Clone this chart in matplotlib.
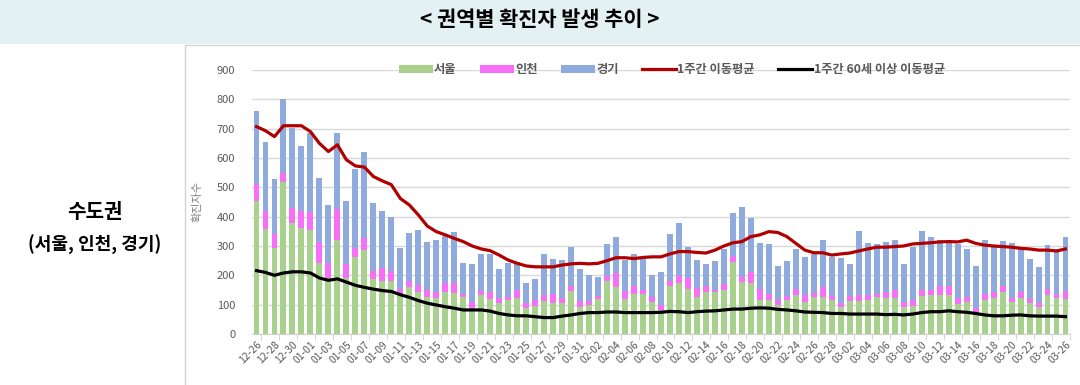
import pandas as pd
import matplotlib
matplotlib.use("Agg")
import matplotlib.pyplot as plt
from matplotlib.patches import Rectangle

plt.rcParams['font.family'] = ['Noto Sans CJK KR', 'DejaVu Sans']

# Daily confirmed cases, 2020-12-26 .. 2021-03-26
dates = pd.date_range("2020-12-26", "2021-03-26").strftime("%m-%d").tolist()

seoul = [455, 357, 293, 518, 380, 361, 354, 242, 192, 321, 191, 261, 288, 188, 180, 180,
         134, 161, 144, 127, 122, 144, 139, 125, 88, 133, 119, 107, 116, 122, 88, 95,
         114, 105, 105, 147, 93, 99, 118, 181, 161, 118, 136, 136, 108, 82, 165, 173,
         152, 125, 144, 143, 150, 247, 176, 173, 116, 116, 99, 116, 133, 110, 125, 125,
         116, 91, 114, 114, 116, 125, 122, 122, 93, 95, 130, 133, 133, 133, 102, 108,
         76, 116, 122, 142, 110, 122, 105, 91, 133, 122, 118]
incheon = [56, 61, 49, 32, 49, 59, 61, 71, 50, 105, 47, 32, 39, 26, 45, 34,
           19, 20, 23, 23, 21, 29, 34, 10, 22, 14, 25, 15, 11, 28, 17, 21,
           19, 31, 17, 17, 21, 15, 12, 18, 46, 29, 28, 14, 19, 17, 17, 25,
           38, 31, 20, 7, 19, 19, 17, 39, 36, 20, 17, 14, 19, 23, 14, 34,
           14, 14, 16, 19, 17, 11, 22, 28, 17, 21, 20, 17, 31, 31, 20, 19,
           12, 20, 22, 22, 12, 22, 13, 14, 19, 14, 29]
gyeonggi = [249, 238, 187, 250, 272, 221, 270, 219, 199, 260, 214, 270, 292, 234, 195, 184,
            140, 162, 188, 164, 179, 162, 174, 106, 128, 125, 130, 99, 115, 94, 68, 72,
            139, 119, 130, 134, 107, 87, 64, 108, 125, 105, 108, 105, 74, 113, 158, 182,
            106, 96, 75, 99, 120, 145, 239, 184, 157, 171, 116, 119, 137, 131, 133, 161,
            134, 153, 109, 217, 176, 171, 169, 170, 129, 182, 200, 180, 156, 154, 185, 162,
            144, 184, 156, 154, 187, 152, 138, 122, 152, 153, 185]

# 7-day moving averages
ma_all = [707, 693, 673, 710, 710, 710, 690, 650, 622, 645, 594, 573, 569, 537, 522, 509,
          462, 440, 406, 368, 349, 338, 326, 315, 300, 290, 284, 269, 252, 241, 232, 229,
          229, 229, 235, 239, 241, 239, 241, 250, 260, 260, 257, 261, 263, 263, 273, 281,
          281, 278, 276, 286, 300, 311, 315, 332, 338, 349, 346, 332, 309, 286, 277, 277,
          269, 273, 276, 283, 290, 296, 296, 298, 300, 307, 309, 311, 314, 315, 314, 320,
          309, 303, 300, 298, 296, 292, 290, 286, 286, 283, 290]
ma_60 = [216, 210, 200, 208, 212, 212, 208, 191, 183, 188, 177, 166, 159, 153, 148, 145,
         134, 125, 114, 105, 99, 93, 88, 82, 82, 82, 78, 70, 65, 62, 62, 59,
         56, 56, 61, 65, 70, 73, 73, 75, 75, 73, 73, 73, 73, 74, 77, 76,
         73, 76, 78, 79, 82, 85, 85, 88, 89, 88, 84, 82, 79, 75, 74, 73,
         70, 70, 68, 68, 68, 68, 66, 67, 65, 68, 73, 76, 76, 79, 76, 74,
         70, 65, 62, 62, 64, 65, 62, 61, 61, 61, 59]

x = list(range(len(dates)))
bottom2 = [a + b for a, b in zip(seoul, incheon)]

fig = plt.figure(figsize=(10.8, 3.85), dpi=100)

# title banner and chart frame
fig.patches.append(Rectangle((0, 1 - 44 / 385), 1, 44 / 385, transform=fig.transFigure,
                             facecolor='#e4f1f2', edgecolor='none', zorder=0))
fig.patches.append(Rectangle((185 / 1080, -0.01), 1, 1 - 45 / 385 + 0.01, transform=fig.transFigure,
                             facecolor='none', edgecolor='#d4d4d4', lw=1, zorder=0))
fig.text(0.5, 1 - 20 / 385, "< 권역별 확진자 발생 추이 >", ha='center', va='center',
         fontsize=15, fontweight='bold', color='black')
fig.text(95 / 1080, 1 - 212 / 385, "수도권", ha='center', va='center',
         fontsize=14.5, fontweight='bold', color='black')
fig.text(95 / 1080, 1 - 245 / 385, "(서울, 인천, 경기)", ha='center', va='center',
         fontsize=13, fontweight='bold', color='black')

ax = fig.add_axes([252 / 1080, 1 - 334 / 385, 818 / 1080, 264 / 385])

w = 0.66
b1 = ax.bar(x, seoul, w, color='#a9d18e', label='서울', zorder=2)
b2 = ax.bar(x, incheon, w, bottom=seoul, color='#f76ef7', label='인천', zorder=2)
b3 = ax.bar(x, gyeonggi, w, bottom=bottom2, color='#8faadc', label='경기', zorder=2)
l1, = ax.plot(x, ma_all, color='#b00000', lw=2.3, label='1주간 이동평균', zorder=3)
l2, = ax.plot(x, ma_60, color='black', lw=2.3, label='1주간 60세 이상 이동평균', zorder=3)

ax.set_xlim(-0.5, len(x) - 0.5)
ax.set_ylim(0, 900)
ax.set_yticks(range(0, 901, 100))
ax.yaxis.grid(True, color='#d9d9d9', lw=1, zorder=0)
ax.set_axisbelow(True)
for s in ['top', 'right', 'left']:
    ax.spines[s].set_visible(False)
ax.spines['bottom'].set_color('#d0d0d0')
ax.tick_params(axis='y', length=0, labelsize=8, labelcolor='#595959', pad=12)

ax.set_xticks(x[::2])
ax.set_xticklabels(dates[::2], rotation=45, ha='right', rotation_mode='anchor',
                   fontsize=7.5, color='#595959')
ax.set_xticks([i + 0.5 for i in x[::2]], minor=True)
ax.tick_params(axis='x', which='major', length=0, pad=4)
ax.tick_params(axis='x', which='minor', length=4, color='#d0d0d0')

ax.set_ylabel("확진자수", fontsize=8, color='#7f7f7f', labelpad=10)

leg = ax.legend([b1, b2, b3, l1, l2], ['서울', '인천', '경기', '1주간 이동평균', '1주간 60세 이상 이동평균'],
                loc='center', bbox_to_anchor=(0.513, 1.0), ncol=5, frameon=False,
                fontsize=8.8, handlelength=2.8, handleheight=0.55, columnspacing=1.9,
                handletextpad=0.1, borderaxespad=0)
for t in leg.get_texts():
    t.set_color('#595959')
    t.set_fontweight('bold')

fig.savefig("out.png", dpi=100)
